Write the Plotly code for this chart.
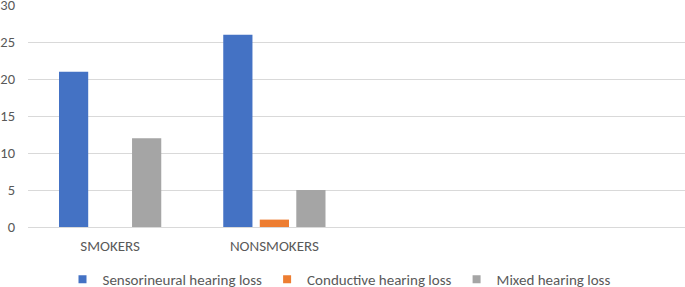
import plotly.graph_objects as go

categories = ["SMOKERS", "NONSMOKERS", "c3", "c4"]
series_names = ["Sensorineural hearing loss", "Conductive hearing loss", "Mixed hearing loss"]
sensorineural = [21, 26, None, None]
conductive = [0, 1, None, None]
mixed = [12, 5, None, None]
colors = ["#4472C4", "#ED7D31", "#A5A5A5"]
y_ticks = [0, 5, 10, 15, 20, 25, 30]

fig = go.Figure()
for name, vals, col in zip(series_names, [sensorineural, conductive, mixed], colors):
    fig.add_trace(go.Bar(x=categories, y=vals, name=name, showlegend=False,
                         marker=dict(color=col, line=dict(width=0))))
    fig.add_trace(go.Scatter(x=[None], y=[None], mode="markers", name=name,
                             marker=dict(symbol="square", size=8, color=col)))

font_family = "Carlito, Calibri, Lato, sans-serif"
fig.update_layout(
    width=685, height=287,
    margin=dict(l=28, r=0, t=5, b=60),
    paper_bgcolor="white", plot_bgcolor="white",
    barmode="group", bargap=0.333, bargroupgap=0.2,
    font=dict(family=font_family, size=14, color="#595959"),
    showlegend=True,
    legend=dict(orientation="h", x=(339 - 28) / 657, xanchor="center",
                yref="container", y=(287 - 263) / 287, yanchor="top",
                font=dict(size=15, color="#595959"), itemwidth=30, tracegroupgap=0),
    xaxis=dict(type="category", categoryorder="array", categoryarray=categories,
               range=[-0.5, 3.5], tickmode="array", tickvals=categories[:2], ticktext=categories[:2],
               showgrid=False, showline=False, zeroline=False, ticks="", ticklabelstandoff=8,
               tickfont=dict(size=15), automargin=False),
    yaxis=dict(range=[0, 30.02], tickvals=y_ticks, showgrid=True, gridcolor="#D9D9D9", gridwidth=1,
               zeroline=True, zerolinecolor="#D9D9D9", zerolinewidth=1, showline=False,
               ticks="", ticklabelstandoff=12, tickfont=dict(size=14.5), automargin=False,
               ticklabeloverflow="allow"),
)
fig.write_html("out.html", post_script="document.body.style.margin='0';",
               config={"displayModeBar": False})
